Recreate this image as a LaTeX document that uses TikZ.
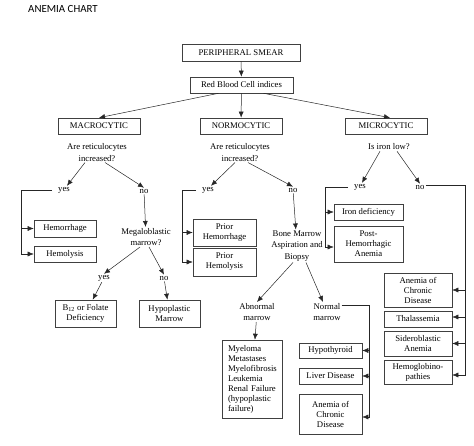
\documentclass[tikz,border=0pt]{standalone}
\usepackage{fontspec}
\setmainfont{Liberation Serif}
\newfontfamily\chartfont{Carlito}
\usetikzlibrary{calc}
\usetikzlibrary{arrows.meta}
\newcommand{\boxfont}{\fontsize{8.7}{10}\selectfont}
\newcommand{\askfont}{\fontsize{8.7}{11.5}\selectfont}

\begin{document}
\begin{tikzpicture}[x=1pt, y=-1pt,
    box/.style={draw=black!75, line width=0.6pt, align=center, inner sep=1pt, font=\boxfont},
    ask/.style={align=center, inner sep=1pt, font=\askfont},
    arr/.style={-{Latex[length=6pt, width=5pt]}, line width=0.5pt, draw=black!85}]
                \useasboundingbox (0, 0) rectangle (474, 446);
                \node[anchor=west, inner sep=0pt, font=\chartfont\fontsize{10.9}{12}\selectfont] (title) at (28, 9) {ANEMIA CHART};
                \node[box, minimum width=118pt, minimum height=17pt] (smear) at (241, 52.5) {PERIPHERAL SMEAR};
                \node[box, minimum width=103pt, minimum height=16pt] (rbc) at (241.5, 85) {Red Blood Cell indices};
                \node[box, minimum width=82pt, minimum height=16pt] (macro) at (99, 126) {MACROCYTIC};
                \node[box, minimum width=82pt, minimum height=16pt] (normo) at (241, 126) {NORMOCYTIC};
                \node[box, minimum width=82pt, minimum height=16pt] (micro) at (386, 126) {MICROCYTIC};
                \draw[arr] (smear) -- (rbc);
                \draw[arr] ([xshift=-23pt]rbc.south) -- (macro.north);
                \draw[arr] (rbc) -- (normo);
                \draw[arr] ([xshift=22pt]rbc.south) -- ([xshift=4pt]micro.north);
                % macrocytic branch
                \node[ask] (askmacro) at (97, 152.5) {Are reticulocytes\\increased?};
                \node[ask] (yesmacro) at (64, 190) {yes};
                \node[ask] (nomacro) at (144, 191) {no};
                \node[box, minimum width=62pt, minimum height=17pt] (hemorrhage) at (65, 228.5) {Hemorrhage};
                \node[box, minimum width=62pt, minimum height=16pt] (hemolysis) at (65, 254) {Hemolysis};
                \node[ask] (megalo) at (146, 237) {Megaloblastic\\marrow?};
                \node[ask] (yesmegalo) at (104, 278) {yes};
                \node[ask] (nomegalo) at (164, 278) {no};
                \node[box, minimum width=61pt, minimum height=27pt] (folate) at (85.5, 313.5) {B\textsubscript{12} or Folate\\Deficiency};
                \node[box, minimum width=61pt, minimum height=27pt] (hypoplastic) at (169.5, 313.5) {Hypoplastic\\Marrow};
                \coordinate (railmacro) at (21, 190);
                \draw[arr] ([xshift=-12pt]askmacro.south) -- ([xshift=3pt]yesmacro.north);
                \draw[arr] ([xshift=8pt]askmacro.south) -- (nomacro.north);
                \draw[arr] ([xshift=-5pt]yesmacro.west) -- (railmacro) |- (hemolysis.west);
                \draw[arr] (railmacro |- hemorrhage.west) -- (hemorrhage.west);
                \draw[arr] (nomacro) -- (megalo);
                \draw[arr] ([xshift=-6pt]megalo.south) -- (yesmegalo.north);
                \draw[arr] ([xshift=3pt]megalo.south) -- (nomegalo.north);
                \draw[arr] (yesmegalo) -- (folate);
                \draw[arr] (nomegalo) -- (hypoplastic);
                % normocytic branch
                \node[ask] (asknormo) at (240, 152.5) {Are reticulocytes\\increased?};
                \node[ask] (yesnormo) at (208, 190) {yes};
                \node[ask] (nonormo) at (293, 190) {no};
                \node[box, minimum width=63pt, minimum height=27pt] (priorhem) at (224.5, 232.5) {Prior\\Hemorrhage};
                \node[box, minimum width=63pt, minimum height=28pt] (priorlys) at (224.5, 262) {Prior\\Hemolysis};
                \node[ask] (biopsy) at (297, 246) {Bone Marrow\\Aspiration and\\Biopsy};
                \node[ask] (abnormal) at (257, 312) {Abnormal\\marrow};
                \node[ask] (normal) at (327, 312) {Normal\\marrow};
                \node[box, align=left, minimum width=60pt, minimum height=78pt, text width=48pt] (failure) at (252, 379) {Myeloma\\Metastases\\Myelofibrosis\\Leukemia\\Renal Failure\\(hypoplastic\\failure)};
                \node[box, minimum width=63pt, minimum height=15pt] (hypothyroid) at (330.5, 350.5) {Hypothyroid};
                \node[box, minimum width=63pt, minimum height=16pt] (liver) at (330.5, 376) {Liver Disease};
                \node[box, minimum width=63pt, minimum height=40pt] (chronicnormo) at (330.5, 414) {Anemia of\\Chronic\\Disease};
                \coordinate (railnormo) at (182, 190);
                \coordinate (railmarrow) at (369, 309);
                \draw[arr] ([xshift=-5pt]asknormo.south) -- ([xshift=3pt]yesnormo.north);
                \draw[arr] ([xshift=8pt]asknormo.south) -- (nonormo.north);
                \draw[arr] ([xshift=-5pt]yesnormo.west) -- (railnormo) |- (priorlys.west);
                \draw[arr] (railnormo |- priorhem.west) -- (priorhem.west);
                \draw[arr] (nonormo) -- (biopsy);
                \draw[arr] ([xshift=-4pt]biopsy.south) -- (abnormal.north);
                \draw[arr] ([xshift=9pt]biopsy.south) -- ([xshift=-4pt]normal.north);
                \draw[arr] (abnormal) -- (failure);
                \draw[arr] ([yshift=-3pt]normal.north east) -| ([yshift=-3pt]chronicnormo.east -| railmarrow) -- ([yshift=-3pt]chronicnormo.east);
                \draw[arr] (hypothyroid.east -| railmarrow) -- (hypothyroid.east);
                \draw[arr] (liver.east -| railmarrow) -- (liver.east);
                % microcytic branch
                \node[ask] (askmicro) at (389, 147) {Is iron low?};
                \node[ask] (yesmicro) at (360, 187) {yes};
                \node[ask] (nomicro) at (420, 187) {no};
                \node[box, minimum width=69pt, minimum height=16pt] (irondef) at (368.5, 212) {Iron deficiency};
                \node[box, minimum width=69pt, minimum height=36pt] (posthem) at (368.5, 244) {Post-\\Hemorrhagic\\Anemia};
                \node[box, minimum width=68pt, minimum height=34pt] (chronicmicro) at (418, 290) {Anemia of\\Chronic\\Disease};
                \node[box, minimum width=68pt, minimum height=16pt] (thalassemia) at (418, 319) {Thalassemia};
                \node[box, minimum width=68pt, minimum height=25pt] (sidero) at (418, 343.5) {Sideroblastic\\Anemia};
                \node[box, minimum width=68pt, minimum height=24pt] (hemoglobin) at (418, 372) {Hemoglobino-\\pathies};
                \coordinate (railyes) at (325, 187);
                \coordinate (railno) at (465, 185);
                \draw[arr] ([xshift=-9pt]askmicro.south) -- ([xshift=2pt]yesmicro.north);
                \draw[arr] ([xshift=8pt]askmicro.south) -- (nomicro.north);
                \draw[arr] ([xshift=-5pt]yesmicro.west) -- (railyes) |- ([yshift=-3pt]posthem.west);
                \draw[arr] (railyes |- irondef.west) -- (irondef.west);
                \draw[arr] ([yshift=2pt]nomicro.east) -- (railno) |- ([yshift=-3pt]hemoglobin.east);
                \draw[arr] (railno |- chronicmicro.east) -- (chronicmicro.east);
                \draw[arr] ([yshift=2pt]railno |- thalassemia.east) -- ([yshift=2pt]thalassemia.east);
                \draw[arr] (railno |- sidero.east) -- (sidero.east);
            \end{tikzpicture}
\end{document}
